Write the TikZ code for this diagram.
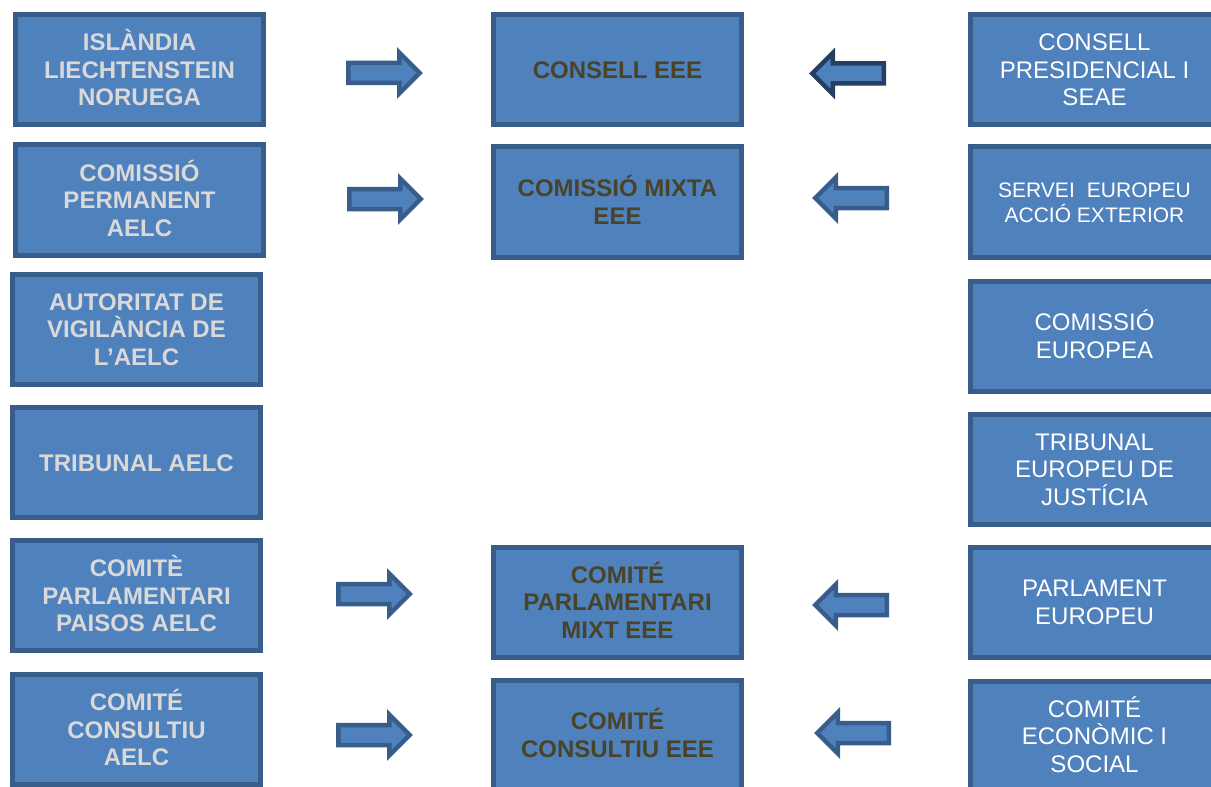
\documentclass[tikz,border=0pt]{standalone}
\usepackage{fontspec}
\setmainfont{Liberation Sans}
\usetikzlibrary{shapes.arrows}
\definecolor{boxfill}{HTML}{4F81BD}
\definecolor{boxline}{HTML}{385D8A}
\definecolor{darkline}{HTML}{243F60}
\definecolor{graytxt}{HTML}{D9D9D9}
\definecolor{olivetxt}{HTML}{494429}
\tikzset{
  orgbox/.style={draw=boxline, fill=boxfill, line width=5bp, inner sep=0pt,
    minimum width=248bp, minimum height=110bp, align=center,
    text height=17.2bp, text depth=0bp,
    font=\fontsize{24bp}{27.5bp}\selectfont},
  two lines/.style={text height=44.7bp},
  three lines/.style={text height=72.2bp},
  leftbox/.style={orgbox, text=graytxt, font=\fontsize{24bp}{27.5bp}\selectfont\bfseries},
  midbox/.style={orgbox, text=olivetxt, font=\fontsize{24bp}{27.5bp}\selectfont\bfseries},
  rightbox/.style={orgbox, text=white},
  blockarrow/.style={single arrow, draw=boxline, fill=boxfill, line width=4.5bp,
    inner xsep=0pt, inner ysep=7.75bp, minimum height=71.5bp, minimum width=0pt,
    outer sep=0pt, anchor=tail,
    single arrow head extend=10.5bp, single arrow tip angle=90},
  toright/.style={blockarrow},
  toleft/.style={blockarrow, shape border rotate=180},
}
\begin{document}
\begin{tikzpicture}[x=1bp, y=-1bp]
\useasboundingbox (0,0) rectangle (1211,787);
\clip (0,0) rectangle (1211,787);
% left column
\node[leftbox, three lines] (l1) at (139.5,69.5) {ISLÀNDIA\\LIECHTENSTEIN\\NORUEGA};
\node[leftbox, three lines] (l2) at (139.5,200) {COMISSIÓ\\PERMANENT\\AELC};
\node[leftbox, three lines] (l3) at (136.5,329) {AUTORITAT DE\\VIGILÀNCIA DE\\L’AELC};
\node[leftbox] (l4) at (136.5,462.5) {TRIBUNAL AELC};
\node[leftbox, three lines] (l5) at (136.5,595.5) {COMITÈ\\PARLAMENTARI\\PAISOS AELC};
\node[leftbox, three lines] (l6) at (136.5,729.5) {COMITÉ\\CONSULTIU\\AELC};
% middle column
\node[midbox] (m1) at (617.5,69.5) {CONSELL EEE};
\node[midbox, two lines] (m2) at (617.5,202) {COMISSIÓ MIXTA\\EEE};
\node[midbox, three lines] (m5) at (617.5,602) {COMITÉ\\PARLAMENTARI\\MIXT EEE};
\node[midbox, two lines] (m6) at (617.5,735) {COMITÉ\\CONSULTIU EEE};
% right column
\node[rightbox, three lines] (r1) at (1094.5,69.5) {CONSELL\\PRESIDENCIAL I\\SEAE};
\node[rightbox, font=\fontsize{21bp}{25bp}\selectfont, text height=40bp] (r2) at (1094.5,202) {SERVEI\hspace{0.3em} EUROPEU\\ACCIÓ EXTERIOR};
\node[rightbox, two lines] (r3) at (1094.5,336) {COMISSIÓ\\EUROPEA};
\node[rightbox, three lines] (r4) at (1094.5,469) {TRIBUNAL\\EUROPEU DE\\JUSTÍCIA};
\node[rightbox, two lines] (r5) at (1094.5,602) {PARLAMENT\\EUROPEU};
\node[rightbox, three lines] (r6) at (1094.5,736) {COMITÉ\\ECONÒMIC I\\SOCIAL};
% block arrows
\node[toright] (a1r) at (348.25,73) {};
\node[toleft, draw=darkline] (a1l) at (883.75,73.5) {};
\node[toright] (a2r) at (349.25,199) {};
\node[toleft] (a2l) at (886.75,198) {};
\node[toright] (a5r) at (338.25,594) {};
\node[toleft] (a5l) at (886.75,605) {};
\node[toright] (a6r) at (338.25,735) {};
\node[toleft] (a6l) at (888.75,733) {};
\end{tikzpicture}
\end{document}
